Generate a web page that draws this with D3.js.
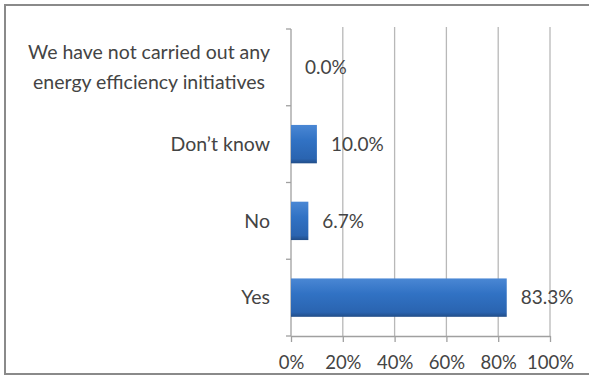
<!DOCTYPE html>
<html>
<head>
<meta charset="utf-8">
<script src="https://cdn.jsdelivr.net/npm/d3@7"></script>
<style>
  html, body { margin: 0; padding: 0; background: #fff; }
  svg { display: block; }
  text { font-family: Lato, "Open Sans", sans-serif; fill: #444; }
</style>
</head>
<body>
<svg id="chart" width="589" height="376"></svg>
<script>
const categories = [
  "We have not carried out any energy efficiency initiatives",
  "Don’t know",
  "No",
  "Yes"
];
const values = [0.0, 10.0, 6.7, 83.3];
const tickValues = [0, 20, 40, 60, 80, 100];

const W = 589, H = 376;
const margin = { left: 291, right: 39, top: 29, bottom: 40 };
const svg = d3.select("#chart");

const defs = svg.append("defs");
const grad = defs.append("linearGradient")
  .attr("id", "barGrad").attr("x1", 0).attr("y1", 0).attr("x2", 0).attr("y2", 1);
grad.append("stop").attr("offset", "0%").attr("stop-color", "#4a87d4");
grad.append("stop").attr("offset", "40%").attr("stop-color", "#3172c4");
grad.append("stop").attr("offset", "88%").attr("stop-color", "#2a64b0");
grad.append("stop").attr("offset", "100%").attr("stop-color", "#214d88");

// outer chart border
svg.append("rect")
  .attr("x", 5).attr("y", 5).attr("width", W + 10).attr("height", H - 2 - 5)
  .attr("fill", "#fff").attr("stroke", "#8a8a8a").attr("stroke-width", 2);

const x = d3.scaleLinear().domain([0, 100]).range([margin.left, W - margin.right]);
const y = d3.scaleBand().domain(categories).range([margin.top, H - margin.bottom])
  .paddingInner(0.5).paddingOuter(0.25);
const yTop = margin.top, yBot = H - margin.bottom;

// gridlines
svg.append("g").selectAll("line").data(tickValues.filter(d => d > 0)).join("line")
  .attr("x1", d => x(d)).attr("x2", d => x(d))
  .attr("y1", yTop - 2).attr("y2", yBot)
  .attr("stroke", "#b8b8b8").attr("stroke-width", 1.3);

// bottom axis
const xAxis = d3.axisBottom(x).tickValues(tickValues).tickFormat(d => d + "%").tickSizeInner(6).tickSizeOuter(0).tickPadding(14);
const gx = svg.append("g").attr("transform", `translate(0,${yBot})`).call(xAxis);
gx.select(".domain").attr("stroke", "#a0a0a0").attr("stroke-width", 1.3);
gx.selectAll(".tick line").attr("stroke", "#a0a0a0").attr("stroke-width", 1.3);
gx.selectAll("text").style("font-size", "18.5px").attr("fill", "#444").attr("font-family", "Lato, sans-serif");

// left axis line and category boundary ticks
svg.append("line").attr("x1", x(0)).attr("x2", x(0)).attr("y1", yTop).attr("y2", yBot)
  .attr("stroke", "#a0a0a0").attr("stroke-width", 1.3);
const boundaries = d3.range(categories.length + 1).map(i => yTop + (yBot - yTop) * i / categories.length);
svg.append("g").selectAll("line").data(boundaries).join("line")
  .attr("x1", x(0) - 5).attr("x2", x(0)).attr("y1", d => d).attr("y2", d => d)
  .attr("stroke", "#a0a0a0").attr("stroke-width", 1.3);

// bars
svg.append("g").selectAll("rect").data(values).join("rect")
  .attr("x", x(0)).attr("y", (d, i) => y(categories[i]))
  .attr("width", d => x(d) - x(0)).attr("height", y.bandwidth())
  .attr("fill", "url(#barGrad)");

// value labels
svg.append("g").selectAll("text").data(values).join("text")
  .attr("x", d => x(d) + 14)
  .attr("y", (d, i) => y(categories[i]) + y.bandwidth() / 2)
  .attr("dy", "0.35em")
  .style("font-size", "19px")
  .text(d => d.toFixed(1) + "%");

// category labels (wrapped, block right-aligned, lines centered)
const labelRight = x(0) - 21;
const maxLabelWidth = 262;
const fs = "19.5px";
const gl = svg.append("g");
categories.forEach((c, i) => {
  const cy = y(c) + y.bandwidth() / 2;
  const words = c.split(" ");
  const lines = [];
  let cur = "";
  const probe = gl.append("text").style("font-size", fs);
  words.forEach(w => {
    const t = cur ? cur + " " + w : w;
    probe.text(t);
    if (probe.node().getComputedTextLength() > maxLabelWidth && cur) {
      lines.push(cur); cur = w;
    } else cur = t;
  });
  lines.push(cur);
  const widths = lines.map(l => { probe.text(l); return probe.node().getComputedTextLength(); });
  probe.remove();
  const blockW = d3.max(widths);
  const lh = 30;
  lines.forEach((l, k) => {
    gl.append("text")
      .attr("x", labelRight - blockW / 2)
      .attr("y", cy + (k - (lines.length - 1) / 2) * lh)
      .attr("dy", "0.35em")
      .attr("text-anchor", "middle")
      .style("font-size", fs)
      .text(l);
  });
});
</script>
</body>
</html>
